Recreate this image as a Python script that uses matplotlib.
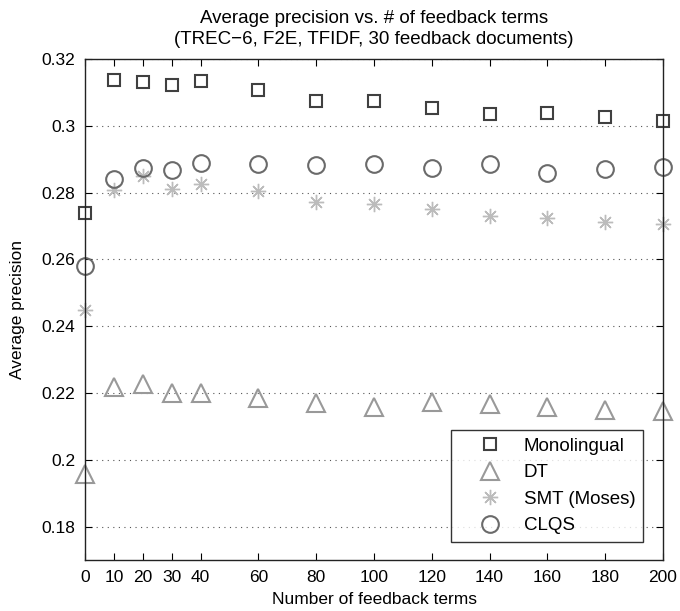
import matplotlib
matplotlib.use("Agg")
import matplotlib.pyplot as plt

plt.rcParams['font.family'] = ['Liberation Sans', 'DejaVu Sans']

terms = [0, 10, 20, 30, 40, 60, 80, 100, 120, 140, 160, 180, 200]
mono = [0.2738, 0.3137, 0.3132, 0.3122, 0.3134, 0.3107, 0.3075, 0.3073, 0.3054, 0.3035, 0.3037, 0.3025, 0.3015]
dt = [0.1957, 0.2217, 0.2227, 0.2201, 0.2201, 0.2184, 0.2171, 0.2159, 0.2172, 0.2168, 0.2158, 0.2150, 0.2145]
smt = [0.2448, 0.2807, 0.2849, 0.2812, 0.2825, 0.2805, 0.2772, 0.2765, 0.2750, 0.2729, 0.2725, 0.2713, 0.2707]
clqs = [0.2580, 0.2842, 0.2874, 0.2868, 0.2890, 0.2887, 0.2884, 0.2885, 0.2875, 0.2885, 0.2860, 0.2870, 0.2877]

xticks = [0, 10, 20, 30, 40, 60, 80, 100, 120, 140, 160, 180, 200]
yticks = [0.18, 0.2, 0.22, 0.24, 0.26, 0.28, 0.3, 0.32]

fig = plt.figure(figsize=(6.8, 6.11), dpi=100)
ax = fig.add_axes([0.125, 0.0835, 0.85, 0.8199])

ax.plot(terms, mono, linestyle='none', marker='s', markersize=9, markerfacecolor='none',
        markeredgecolor='#404040', markeredgewidth=1.5, label='Monolingual')
ax.plot(terms, dt, linestyle='none', marker='^', markersize=13, markerfacecolor='none',
        markeredgecolor='#999999', markeredgewidth=1.5, label='DT')
ax.plot(terms, smt, linestyle='none', marker=(8, 2, 0), markersize=11, markerfacecolor='none',
        markeredgecolor='#bcbcbc', markeredgewidth=1.0, label='SMT (Moses)')
ax.plot(terms, clqs, linestyle='none', marker='o', markersize=12, markerfacecolor='none',
        markeredgecolor='#6a6a6a', markeredgewidth=1.5, label='CLQS')

ax.set_xlim(0, 200)
ax.set_ylim(0.17, 0.32)
ax.set_xticks(xticks)
ax.set_xticklabels([str(t) for t in xticks])
ax.set_yticks(yticks)
ax.set_yticklabels(['0.18', '0.2', '0.22', '0.24', '0.26', '0.28', '0.3', '0.32'])
ax.tick_params(direction='in', top=True, right=True, labelsize=12.5, length=5, width=0.8,
               colors='black', pad=7)
ax.grid(True, axis='y', linestyle=(0, (1, 4)), color='#555555', linewidth=0.8)
for s in ax.spines.values():
    s.set_linewidth(1.0)
    s.set_color('#222222')
for m in ax.lines:
    m.set_clip_on(False)

ax.set_xlabel('Number of feedback terms', fontsize=12.5, labelpad=5)
ax.set_ylabel('Average precision', fontsize=12.5, labelpad=12)
ax.set_title('Average precision vs. # of feedback terms\n(TREC\u22126, F2E, TFIDF, 30 feedback documents)',
             fontsize=13.5, pad=11, linespacing=1.25)

leg = ax.legend(loc='lower right', bbox_to_anchor=(0.965, 0.036), fontsize=13.5, frameon=True,
                fancybox=False, edgecolor='black', borderpad=0.4, labelspacing=0.5,
                handletextpad=0.1, borderaxespad=0, markerscale=1.0, handlelength=3.4)
leg.get_frame().set_linewidth(1.0)

fig.savefig('out.png', dpi=100)
